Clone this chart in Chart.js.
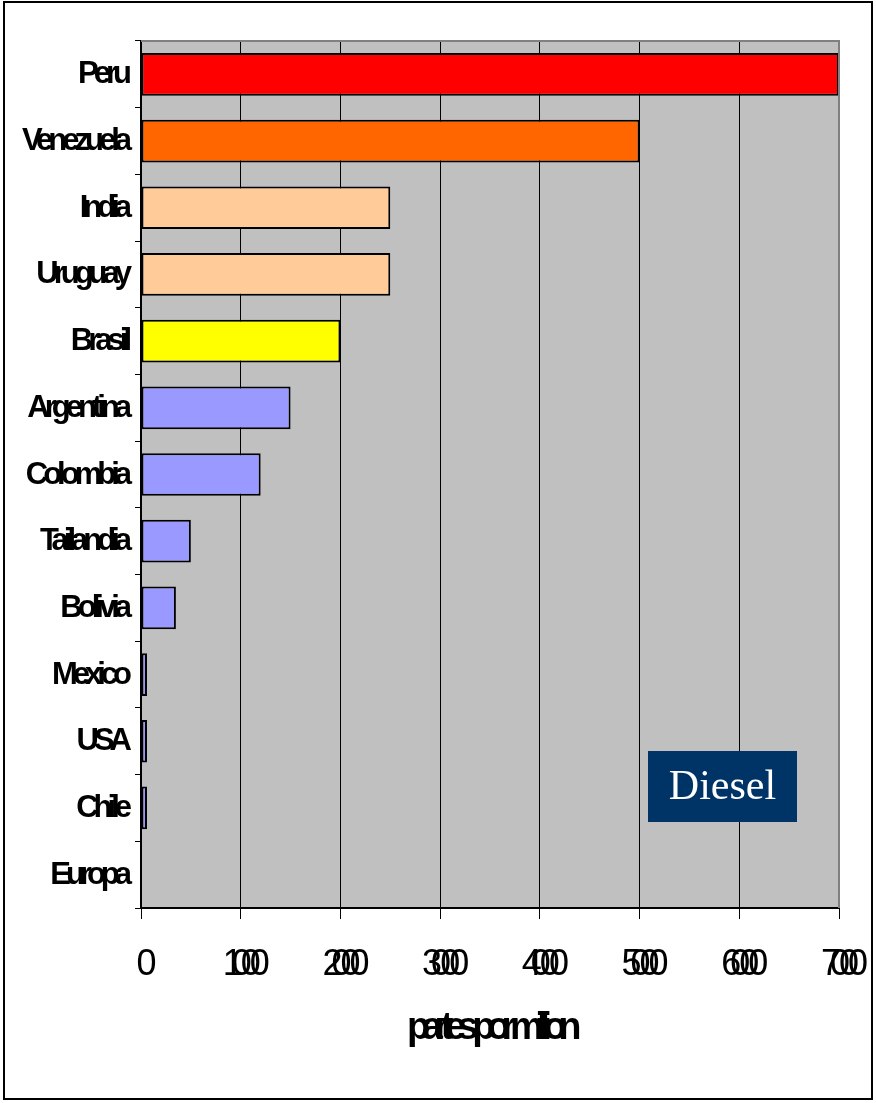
<!DOCTYPE html>
<html>
<head>
<meta charset="utf-8">
<script src="https://cdn.jsdelivr.net/npm/chart.js@4.4.1/dist/chart.umd.min.js"></script>
<style>
  html, body { margin: 0; padding: 0; background: #fff; }
  canvas { display: block; }
</style>
</head>
<body>
<canvas id="dieselChart" width="876" height="1103"></canvas>
<script>
// Sulphur content in diesel, ppm
const countries = ['Peru', 'Venezuela', 'India', 'Uruguay', 'Brasil', 'Argentina', 'Colombia',
  'Tailandia', 'Bolivia', 'Mexico', 'USA', 'Chile', 'Europa'];
const ppmValues = [7000, 5000, 2500, 2500, 2000, 1500, 1200, 500, 350, 60, 60, 60, 0];
const barColors = ['#FF0000', '#FF6600', '#FFCC99', '#FFCC99', '#FFFF00', '#9999FF', '#9999FF',
  '#9999FF', '#9999FF', '#9999FF', '#9999FF', '#9999FF', '#9999FF'];
const axisMax = 7000;
const axisStep = 1000;
const axisTitle = 'partes por million';
const boxLabel = 'Diesel';

// Plot background, frame, squeezed labels and the Diesel tag
const framePlugin = {
  id: 'frame',
  beforeDraw(chart) {
    const { ctx, chartArea: a } = chart;
    ctx.save();
    ctx.fillStyle = '#fff';
    ctx.fillRect(0, 0, chart.width, chart.height);
    ctx.fillStyle = '#C0C0C0';
    ctx.fillRect(a.left, a.top, a.right - a.left, a.bottom - a.top);
    ctx.restore();
  },
  afterDraw(chart) {
    const { ctx, chartArea: a } = chart;
    const xScale = chart.scales.x;
    const yScale = chart.scales.y;
    ctx.save();

    // grey frame on top and right of plot
    ctx.strokeStyle = '#808080';
    ctx.lineWidth = 2;
    ctx.beginPath();
    ctx.moveTo(a.left, a.top);
    ctx.lineTo(a.right, a.top);
    ctx.lineTo(a.right, a.bottom);
    ctx.stroke();

    // outer border
    ctx.strokeStyle = '#000';
    ctx.lineWidth = 2;
    ctx.strokeRect(4, 2, chart.width - 8, chart.height - 6);

    ctx.fillStyle = '#000';

    // category labels
    ctx.font = 'bold 31px "Liberation Sans", Arial, sans-serif';
    ctx.letterSpacing = '-5px';
    ctx.textAlign = 'right';
    ctx.textBaseline = 'alphabetic';
    countries.forEach((name, i) => {
      const y = yScale.getPixelForTick(i);
      ctx.fillText(name, a.left - 14, y + 9);
    });

    // value tick labels
    ctx.font = '36px "Liberation Sans", Arial, sans-serif';
    ctx.letterSpacing = '-11px';
    ctx.textAlign = 'center';
    xScale.ticks.forEach((t, i) => {
      const x = xScale.getPixelForTick(i);
      ctx.fillText(String(t.value), x, a.bottom + 67);
    });

    // axis title
    ctx.font = 'bold 38px "Liberation Sans", Arial, sans-serif';
    ctx.letterSpacing = '-8.5px';
    ctx.fillText(axisTitle, (a.left + a.right) / 2, a.bottom + 131);

    // Diesel tag
    ctx.letterSpacing = '0px';
    const bx = a.right - 191, by = a.bottom - 157;
    ctx.fillStyle = '#003366';
    ctx.fillRect(bx, by, 149, 71);
    ctx.fillStyle = '#fff';
    ctx.font = '42px "Liberation Serif", "Times New Roman", serif';
    ctx.textAlign = 'center';
    ctx.textBaseline = 'middle';
    ctx.fillText(boxLabel, bx + 149 / 2, by + 37);

    ctx.restore();
  }
};

const ctx = document.getElementById('dieselChart');

new Chart(ctx, {
  type: 'bar',
  data: {
    labels: countries,
    datasets: [{
      data: ppmValues,
      backgroundColor: barColors,
      borderColor: '#000',
      borderWidth: 2,
      borderSkipped: false,
      categoryPercentage: 1,
      barPercentage: 0.64
    }]
  },
  options: {
    indexAxis: 'y',
    responsive: false,
    animation: false,
    events: [],
    layout: {
      padding: { left: 0, top: 41, right: 37, bottom: 0 }
    },
    plugins: {
      legend: { display: false },
      tooltip: { enabled: false }
    },
    scales: {
      x: {
        min: 0,
        max: axisMax,
        ticks: { display: false, stepSize: axisStep },
        grid: {
          color: (c) => (c.tick && c.tick.value === axisMax ? '#808080' : '#000'),
          lineWidth: 1,
          drawTicks: true,
          tickLength: 11,
          tickColor: '#000'
        },
        border: { display: true, color: '#000', width: 2 },
        afterFit(scale) { scale.height = 195; }
      },
      y: {
        ticks: { display: false },
        grid: {
          offset: true,
          drawOnChartArea: false,
          drawTicks: true,
          tickLength: 6,
          color: '#000'
        },
        border: { display: true, color: '#000', width: 2 },
        afterFit(scale) { scale.width = 141; }
      }
    }
  },
  plugins: [framePlugin]
});
</script>
</body>
</html>
